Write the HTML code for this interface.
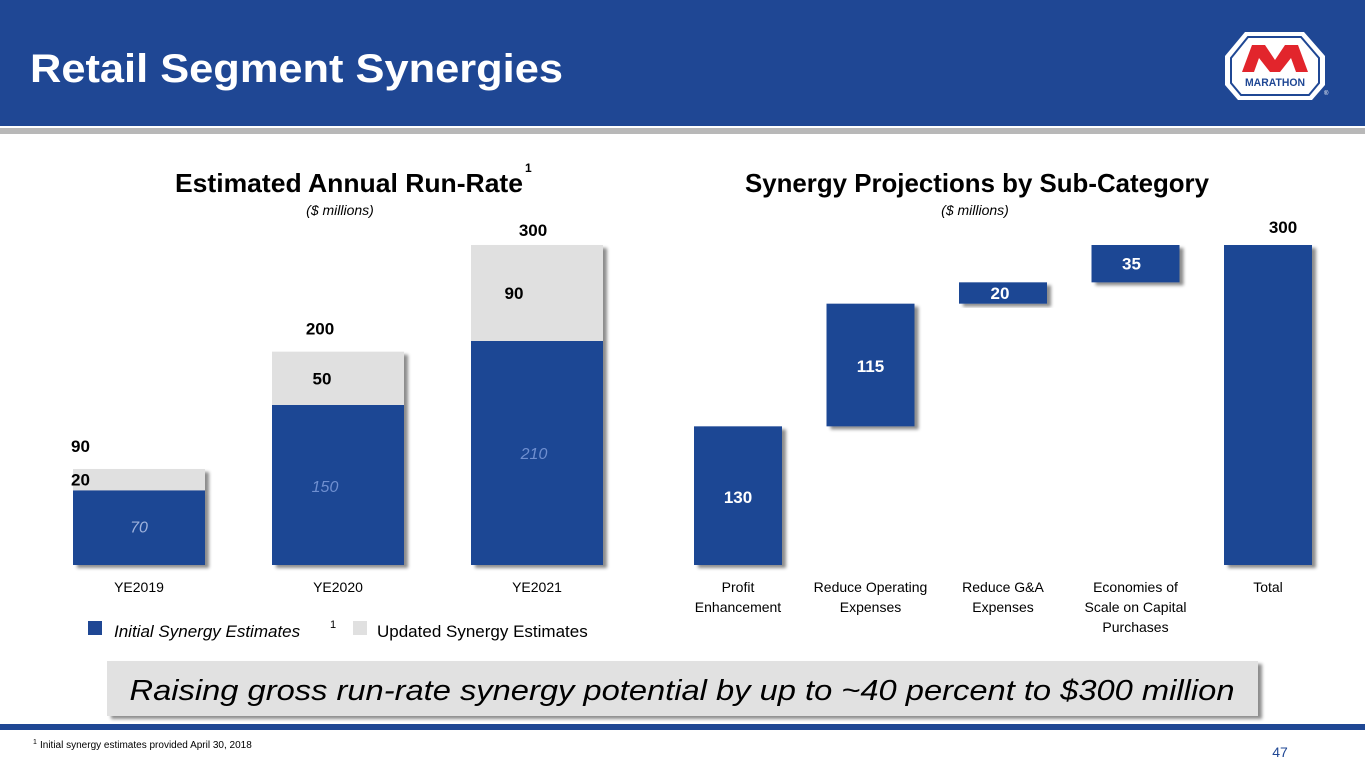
<!DOCTYPE html>
<html><head><meta charset="utf-8"><style>
body{margin:0;width:1365px;height:768px;overflow:hidden;background:#fff;font-family:"Liberation Sans",sans-serif}
svg{display:block}
</style></head><body>
<svg width="1365" height="768" viewBox="0 0 1365 768">
<defs>
<filter id="sh" x="-10%" y="-10%" width="130%" height="130%"><feDropShadow dx="4" dy="3" stdDeviation="1.5" flood-color="#000" flood-opacity="0.45"/></filter>
</defs>
<rect x="0" y="0" width="1365" height="126" fill="#1f4794"/>
<rect x="0" y="128" width="1365" height="6" fill="#b8b8b8"/>
<text x="30" y="82" font-size="40" font-weight="bold" fill="#fff" textLength="533" lengthAdjust="spacingAndGlyphs">Retail Segment Synergies</text>
<g>
<path d="M1245 32 L1304 32 L1325 56 L1325 85 L1312 100 L1238 100 L1225 85 L1225 56 Z" fill="#fff"/>
<path d="M1248 37 L1301 37 L1319 58 L1319 83 L1309 95 L1241 95 L1231 83 L1231 58 Z" fill="none" stroke="#1f4794" stroke-width="2"/>
<path d="M1242 72 L1252 45 L1265 45 L1275 60 L1285 45 L1298 45 L1308 72 L1296 72 L1291 58 L1280 72 L1270 72 L1259 58 L1254 72 Z" fill="#e2252c"/>
<text x="1275" y="86" font-size="11" font-weight="bold" fill="#1f4794" text-anchor="middle" textLength="60" lengthAdjust="spacingAndGlyphs">MARATHON</text>
<text x="1324" y="95" font-size="6" fill="#fff">®</text>
</g>
<text x="175" y="192" font-size="26" font-weight="bold" fill="#000" textLength="348" lengthAdjust="spacingAndGlyphs">Estimated Annual Run-Rate</text>
<text x="525" y="172" font-size="12" font-weight="bold">1</text>
<text x="340" y="215" font-size="14" font-style="italic" text-anchor="middle">($ millions)</text>
<text x="745" y="192" font-size="26" font-weight="bold" fill="#000" textLength="464" lengthAdjust="spacingAndGlyphs">Synergy Projections by Sub-Category</text>
<text x="975" y="215" font-size="14" font-style="italic" text-anchor="middle">($ millions)</text>
<g id="left"></g>
<g id="right"></g>
<g>
<rect x="88" y="621" width="14" height="14" fill="#1f4794"/>
<text x="114" y="637" font-size="17" font-style="italic">Initial Synergy Estimates</text>
<text x="330" y="628" font-size="11">1</text>
<rect x="353" y="621" width="14" height="14" fill="#e0e0e0"/>
<text x="377" y="637" font-size="17">Updated Synergy Estimates</text>
</g>
<rect x="107" y="661" width="1151" height="55" fill="#e1e1e1" filter="url(#sh)"/>
<text x="682" y="700" font-size="29" font-style="italic" fill="#000" text-anchor="middle" textLength="1105" lengthAdjust="spacingAndGlyphs">Raising gross run-rate synergy potential by up to ~40 percent to $300 million</text>
<rect x="0" y="724" width="1365" height="6" fill="#1f4794"/>
<text x="33" y="744" font-size="7">1</text>
<text x="40" y="748" font-size="10">Initial synergy estimates provided April 30, 2018</text>
<text x="1280" y="757" font-size="14" fill="#1f4794" text-anchor="middle">47</text>
</svg>
<script>
const years = ["YE2019","YE2020","YE2021"];
const initialVals = [70,150,210];
const updatedVals = [20,50,90];
const totalVals = [90,200,300];
const subCats = [["Profit","Enhancement"],["Reduce Operating","Expenses"],["Reduce G&A","Expenses"],["Economies of","Scale on Capital","Purchases"],["Total"]];
const subVals = [130,115,20,35,300];
const NS="http://www.w3.org/2000/svg";
const base=565, k=320/300;
const y=v=>base-v*k;
function mk(tag,attrs,parent,txt){const e=document.createElementNS(NS,tag);for(const a in attrs)e.setAttribute(a,attrs[a]);if(txt!==undefined)e.textContent=txt;parent.appendChild(e);return e;}
const L=document.getElementById('left');
years.forEach((yr,i)=>{
  const x=73+i*199, w=132;
  const g=mk('g',{filter:'url(#sh)'},L);
  const b1=mk('rect',{x:x,y:y(initialVals[i]),width:w,height:initialVals[i]*k,fill:'#1f4794'},g);
  
  
  const b2=mk('rect',{x:x,y:y(initialVals[i]+updatedVals[i]),width:w,height:updatedVals[i]*k,fill:'#e0e0e0'},g);
  
  
  const cx=x+w/2;
  const yi=y(initialVals[i]);
  const t1=mk('text',{x:i==0?cx:x+(i==1?53:63),y:i==0?(yi+base)/2+5:yi+(i==1?87:118),'font-size':16,'font-style':'italic',fill:i==0?'#9fb3dd':'#6f8fd0','text-anchor':'middle'},L,initialVals[i]);
  
  
  const ym=(yi+y(initialVals[i]+updatedVals[i]))/2;
  const t2=mk('text',{x:i==0?x-2:x+(i==1?50:43),y:ym+6,'font-size':17,'font-weight':'bold','text-anchor':i==0?'start':'middle'},L,updatedVals[i]);
  
  
  const t3=mk('text',{x:i==0?x-2:x+(i==1?48:62),y:y(totalVals[i])-(i==2?9:17),'font-size':17,'font-weight':'bold','text-anchor':i==0?'start':'middle'},L,totalVals[i]);
  
  
  const t4=mk('text',{x:cx,y:592,'font-size':14,'text-anchor':'middle'},L,yr);
  
  
});
const R=document.getElementById('right');
let cum=0;
subVals.forEach((v,i)=>{
  const last=i==subVals.length-1;
  const lo=last?0:cum, hi=last?v:cum+v;
  const x=694+i*132.5, w=88;
  const r=mk('rect',{x:x,y:y(hi),width:w,height:(hi-lo)*k,fill:'#1f4794',filter:'url(#sh)'},R);
  
  
  let ty, tx;
  if(last){ty=y(hi)-12;tx=x+w/2+15;}
  else if(i==0){ty=y(lo)-62;tx=x+w/2;}
  else if(i==1){ty=(y(hi)+y(lo))/2+7;tx=x+w/2;}
  else {ty=(y(hi)+y(lo))/2+6;tx=x+w/2+(i==2?-3:-4);}
  const t=mk('text',{x:tx,y:ty,'font-size':17,'font-weight':'bold',fill:last?'#000':'#fff','text-anchor':'middle'},R,v);
  
  
  subCats[i].forEach((ln,j)=>{
    const c=mk('text',{x:x+w/2,y:592+j*20,'font-size':14,'text-anchor':'middle'},R,ln);
    
    
  });
  if(!last)cum+=v;
});
</script>
</body></html>
